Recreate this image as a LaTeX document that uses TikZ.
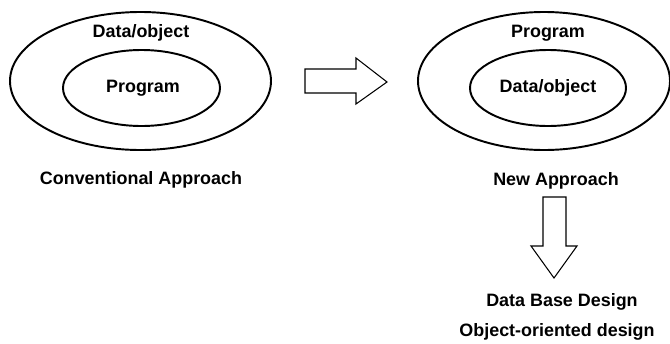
\documentclass[tikz,border=0pt]{standalone}
\usepackage{fontspec}
\setmainfont{Liberation Sans}
\usepackage{tikz}

\tikzset{
  lbl/.style={font=\fontsize{10.2}{12}\selectfont\bfseries, inner sep=1pt},
  ring/.style={line width=1.1pt},
  blockarrow/.style={line width=0.6pt, line join=miter}
}

\begin{document}
\begin{tikzpicture}[x=1cm,y=1cm]
\useasboundingbox (0,0) rectangle (13.4,6.86);
% conventional approach
\begin{scope}
\draw[ring] (2.81,5.24) ellipse [x radius=2.61, y radius=1.38];
\draw[ring] (2.83,5.10) ellipse [x radius=1.57, y radius=0.76];
\node[lbl] (convdata) at (2.82,6.20) {Data/object};
\node[lbl] (convprog) at (2.86,5.10) {Program};
\node[lbl] (convname) at (2.82,3.26) {Conventional Approach};
\end{scope}
% block arrow to the right
\draw[blockarrow] (6.10,5.00) -- (7.12,5.00) -- (7.12,4.78) -- (7.74,5.22)
  -- (7.12,5.70) -- (7.12,5.48) -- (6.10,5.48) -- cycle;
% new approach
\begin{scope}
\draw[ring] (10.88,5.24) ellipse [x radius=2.52, y radius=1.38];
\draw[ring] (10.96,5.10) ellipse [x radius=1.56, y radius=0.76];
\node[lbl] (newprog) at (10.96,6.20) {Program};
\node[lbl] (newdata) at (10.96,5.10) {Data/object};
\node[lbl] (newname) at (11.12,3.24) {New Approach};
\end{scope}
% block arrow downwards
\draw[blockarrow] (10.86,2.92) -- (11.32,2.92) -- (11.32,1.94) -- (11.54,1.94)
  -- (11.08,1.30) -- (10.62,1.94) -- (10.86,1.94) -- cycle;
\node[lbl] (dbdesign) at (11.24,0.82) {Data Base Design};
\node[lbl] (oodesign) at (11.14,0.22) {Object-oriented design};
\end{tikzpicture}
\end{document}
